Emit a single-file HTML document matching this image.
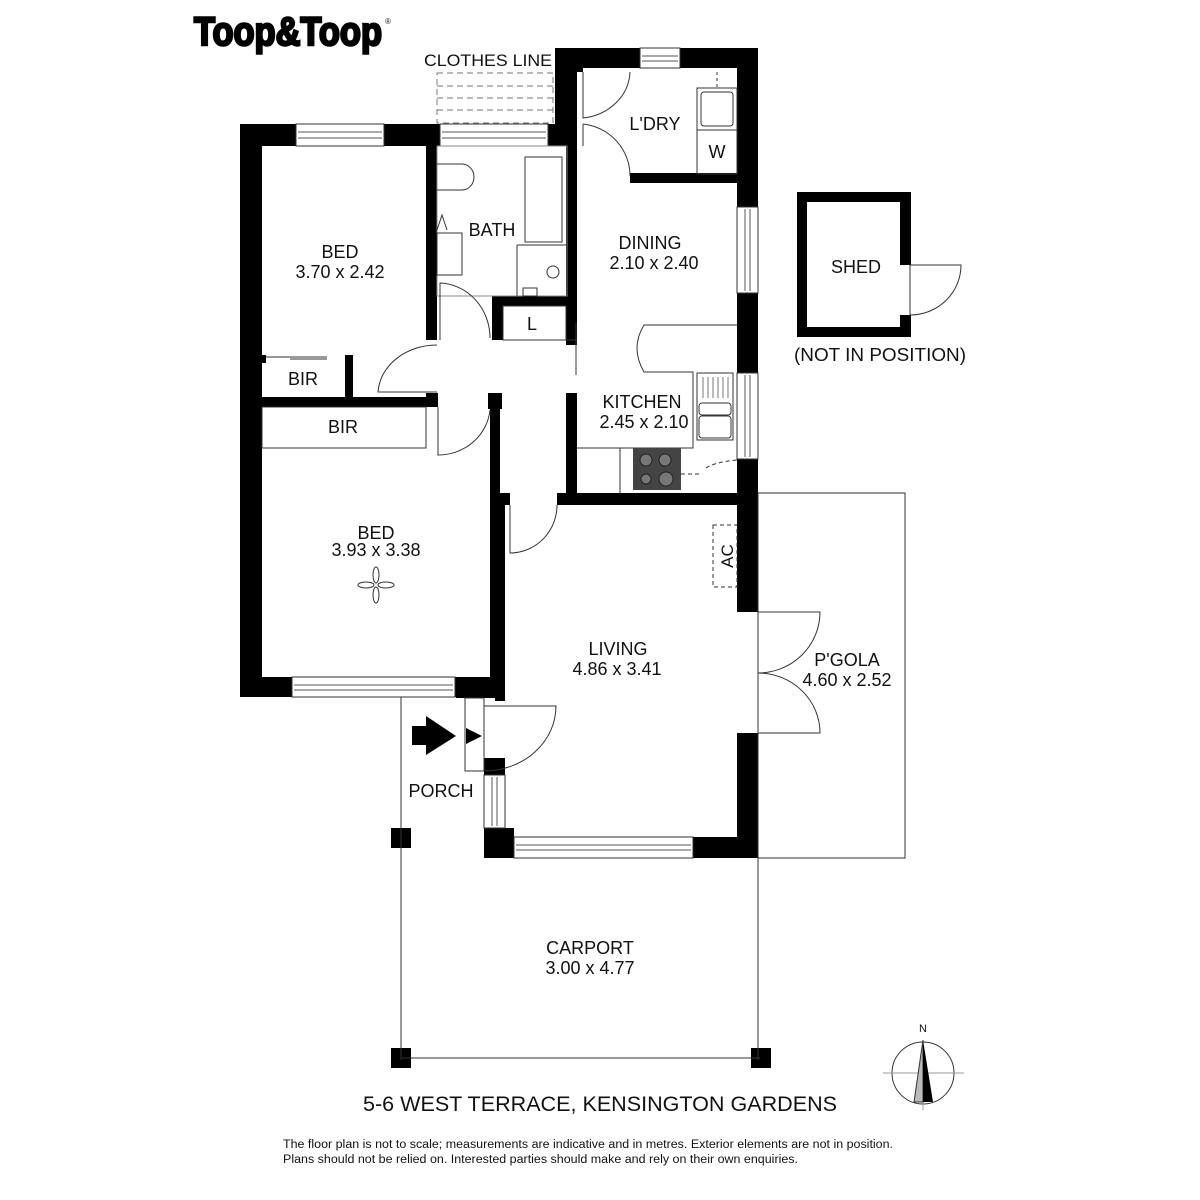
<!DOCTYPE html>
<html><head><meta charset="utf-8"><style>
html,body{margin:0;padding:0;background:#fff;}
svg{display:block;}
text{font-family:"Liberation Sans",sans-serif;fill:#111;}
.lb{font-size:18px;text-anchor:middle;}
</style></head><body>
<svg width="1200" height="1200" viewBox="0 0 1200 1200" xmlns="http://www.w3.org/2000/svg">
<rect width="1200" height="1200" fill="#fff"/>
<!-- logo -->
<text x="194" y="45" font-size="40" font-weight="bold" stroke="#000" stroke-width="2.5" textLength="188" lengthAdjust="spacingAndGlyphs" style="font-family:'Liberation Sans',sans-serif;fill:#000">Toop&amp;Toop</text>
<text x="385" y="24" font-size="8">®</text>

<!-- clothes line -->
<text x="424" y="66" font-size="17" textLength="128" lengthAdjust="spacingAndGlyphs">CLOTHES LINE</text>
<g stroke="#777" stroke-width="1" stroke-dasharray="6,4" fill="none">
<rect x="437" y="73" width="116" height="50"/>
<line x1="437" y1="86" x2="553" y2="86"/><line x1="437" y1="98" x2="553" y2="98"/><line x1="437" y1="110" x2="553" y2="110"/>
</g>

<g fill="#000">
<rect x="240" y="124" width="22" height="573"/>
<rect x="240" y="124" width="196" height="22"/>
<rect x="434" y="124" width="123" height="22"/>
<rect x="555" y="48" width="22" height="98"/>
<rect x="555" y="48" width="202" height="20"/>
<rect x="737" y="48" width="21" height="446"/>
<rect x="630" y="173" width="110" height="10"/>
<rect x="577" y="68" width="6" height="4"/>
<rect x="566" y="146" width="11" height="35"/>
<rect x="566" y="180" width="11" height="165"/>
<rect x="426" y="146" width="11" height="194"/>
<rect x="426" y="393" width="12" height="14"/>
<rect x="492" y="296" width="75" height="10"/>
<rect x="492" y="296" width="11" height="44"/>
<rect x="240" y="397" width="198" height="10"/>
<rect x="345" y="355" width="8" height="45"/>
<rect x="262" y="355" width="4" height="8"/>
<rect x="490" y="407" width="10" height="290"/>
<rect x="488" y="393" width="14" height="16"/>
<rect x="240" y="677" width="262" height="20"/>
<rect x="456" y="677" width="49" height="21"/>
<rect x="566" y="393" width="11" height="100"/>
<rect x="557" y="493" width="200" height="12"/>
<rect x="500" y="493" width="10" height="12"/>
<rect x="495" y="493" width="10" height="208"/>
<rect x="484" y="758" width="21" height="17"/>
<rect x="484" y="828" width="30" height="30"/>
<rect x="737" y="493" width="21" height="119"/>
<rect x="737" y="733" width="21" height="125"/>
<rect x="693" y="837" width="65" height="21"/>
<rect x="797" y="192" width="114" height="10"/>
<rect x="797" y="192" width="10" height="145"/>
<rect x="797" y="327" width="114" height="10"/>
<rect x="900" y="192" width="11" height="73"/>
<rect x="900" y="315" width="11" height="22"/>
<rect x="391" y="828" width="20" height="20"/>
<rect x="391" y="1048" width="20" height="20"/>
<rect x="751" y="1048" width="20" height="20"/>
</g>

<g fill="#fff" stroke="#333" stroke-width="1">
<rect x="296" y="124" width="88" height="22"/>
<rect x="440" y="124" width="108" height="22"/>
<rect x="640" y="48" width="40" height="20"/>
<rect x="737" y="207" width="21" height="86"/>
<rect x="737" y="373" width="21" height="86"/>
<rect x="292" y="677" width="163" height="20"/>
<rect x="484" y="775" width="21" height="53"/>
<rect x="514" y="837" width="179" height="21"/>
</g>
<g stroke="#555" stroke-width="1" fill="none">
<line x1="298" y1="132" x2="382" y2="132"/><line x1="298" y1="138" x2="382" y2="138"/>
<line x1="442" y1="132" x2="546" y2="132"/><line x1="442" y1="138" x2="546" y2="138"/>
<line x1="642" y1="56" x2="678" y2="56"/><line x1="642" y1="61" x2="678" y2="61"/>
<line x1="745" y1="209" x2="745" y2="291"/><line x1="750" y1="209" x2="750" y2="291"/>
<line x1="745" y1="375" x2="745" y2="457"/><line x1="750" y1="375" x2="750" y2="457"/>
<line x1="294" y1="685" x2="453" y2="685"/><line x1="294" y1="690" x2="453" y2="690"/>
<line x1="492" y1="777" x2="492" y2="826"/><line x1="497" y1="777" x2="497" y2="826"/>
<line x1="516" y1="845" x2="691" y2="845"/><line x1="516" y1="850" x2="691" y2="850"/>
</g>

<g stroke="#333" stroke-width="1" fill="none">
<path d="M583,72 L583,118 A53,48 0 0 0 630,72"/>
<path d="M583,124 A53,52 0 0 1 630,176"/>
<line x1="583" y1="124" x2="583" y2="146"/>
<rect x="697" y="88" width="40" height="42"/>
<rect x="701" y="92" width="32" height="34" rx="3"/>
<rect x="697" y="130" width="40" height="44"/>
<line x1="717" y1="72" x2="717" y2="88" stroke-dasharray="3,3"/>
<rect x="437" y="146" width="130" height="150" stroke="#888"/>
<path d="M437,164 L462,164 A12,13 0 0 1 462,190 L437,190"/>
<rect x="525" y="157" width="37" height="85"/>
<rect x="437" y="233" width="25" height="42"/>
<path d="M437,230 L442,215 L447,230"/>
<line x1="517" y1="245" x2="517" y2="296"/><line x1="517" y1="245" x2="566" y2="245"/>
<circle cx="553" cy="272" r="6"/>
<rect x="523" y="288" width="14" height="8"/>
<path d="M440,340 L440,283 A52,55 0 0 1 490,338"/>
<path d="M437,392 L378,392 A59,50 0 0 1 437,345"/>
<path d="M438,407 L438,455 A52,50 0 0 0 490,410"/>
<line x1="266" y1="357" x2="327" y2="357"/><line x1="290" y1="359" x2="327" y2="359"/>
<rect x="262" y="407" width="164" height="41"/>
<rect x="503" y="306" width="63" height="34"/>
<line x1="503" y1="340" x2="577" y2="340"/>
<line x1="576" y1="323" x2="576" y2="375"/>
<path d="M737,325 L644,325 Q630,348 644,372 L693,372 L693,448 L577,448"/>
<line x1="620" y1="448" x2="620" y2="493"/>
<rect x="697" y="373" width="36" height="67"/>
<rect x="699" y="403" width="32" height="12" rx="3"/>
<rect x="699" y="416" width="32" height="22" rx="3"/>
<g stroke="#777"><line x1="703" y1="377" x2="703" y2="398"/><line x1="708" y1="377" x2="708" y2="398"/><line x1="713" y1="377" x2="713" y2="398"/><line x1="718" y1="377" x2="718" y2="398"/><line x1="723" y1="377" x2="723" y2="398"/><line x1="728" y1="377" x2="728" y2="398"/></g>
<path d="M681,474 L700,474 M706,468 Q715,462 737,460" stroke-dasharray="4,3"/>
<path d="M510,505 L510,553 A47,48 0 0 0 557,505"/>
<path d="M484,706 L556,706 A72,65 0 0 1 484,771"/>
<rect x="465" y="698" width="19" height="73"/>
<rect x="713" y="525" width="24" height="62" stroke-dasharray="4,3"/>
<rect x="758" y="493" width="147" height="365"/>
<path d="M758,612 L820,612 A62,61 0 0 1 758,673 A62,60 0 0 1 820,733 L758,733"/>
<line x1="401" y1="697" x2="401" y2="1060"/>
<line x1="758" y1="858" x2="758" y2="1060"/>
<line x1="401" y1="1058" x2="760" y2="1058"/>
<path d="M910,265 L961,265 A51,50 0 0 1 910,315 Z"/>
<circle cx="923" cy="1073" r="31"/>
<line x1="883" y1="1073" x2="964" y2="1073" stroke="#999"/>
<line x1="923" y1="1102" x2="923" y2="1110" stroke="#999"/>
<ellipse cx="376" cy="575" rx="3" ry="8"/><ellipse cx="376" cy="595" rx="3" ry="8"/>
<ellipse cx="366" cy="585" rx="8" ry="3"/><ellipse cx="386" cy="585" rx="8" ry="3"/>
</g>
<rect x="633" y="448" width="48" height="42" fill="#444"/>
<g fill="#777" stroke="#222"><circle cx="646" cy="460" r="6"/><circle cx="665" cy="460" r="6"/><circle cx="646" cy="479" r="5"/><circle cx="666" cy="479" r="7"/></g>
<polygon points="923,1040 914,1102 923,1102" fill="#bbb" stroke="#333" stroke-width="1"/>
<polygon points="923,1040 933,1102 923,1102" fill="#000"/>
<text x="923" y="1032" font-size="11" text-anchor="middle">N</text>
<polygon points="412,726 426,726 426,716 456,736 426,755 426,745 412,745" fill="#000"/>
<polygon points="466,728 482,736 466,744" fill="#000"/>

<text class="lb" x="655" y="130">L'DRY</text>
<text class="lb" x="717" y="158">W</text>
<text class="lb" x="492" y="236">BATH</text>
<text class="lb" x="532" y="330">L</text>
<text class="lb" x="340" y="258">BED</text>
<text class="lb" x="340" y="278">3.70 x 2.42</text>
<text class="lb" x="303" y="385">BIR</text>
<text class="lb" x="343" y="433">BIR</text>
<text class="lb" x="650" y="249">DINING</text>
<text class="lb" x="654" y="269">2.10 x 2.40</text>
<text class="lb" x="642" y="408">KITCHEN</text>
<text class="lb" x="644" y="428">2.45 x 2.10</text>
<text class="lb" x="376" y="539">BED</text>
<text class="lb" x="376" y="556">3.93 x 3.38</text>
<text class="lb" x="618" y="655">LIVING</text>
<text class="lb" x="617" y="675">4.86 x 3.41</text>
<text class="lb" x="847" y="666">P'GOLA</text>
<text class="lb" x="847" y="686">4.60 x 2.52</text>
<text class="lb" x="441" y="797">PORCH</text>
<text class="lb" x="590" y="954">CARPORT</text>
<text class="lb" x="590" y="974">3.00 x 4.77</text>
<text class="lb" x="856" y="273">SHED</text>
<text class="lb" x="880" y="361" textLength="172" lengthAdjust="spacingAndGlyphs">(NOT IN POSITION)</text>
<text x="733" y="556" font-size="17" text-anchor="middle" transform="rotate(-90 733 556)">AC</text>

<text x="600" y="1111" font-size="21" text-anchor="middle" textLength="474" lengthAdjust="spacingAndGlyphs">5-6 WEST TERRACE, KENSINGTON GARDENS</text>
<text x="283" y="1148" font-size="11.5" textLength="610" lengthAdjust="spacingAndGlyphs">The floor plan is not to scale; measurements are indicative and in metres. Exterior elements are not in position.</text>
<text x="283" y="1163" font-size="11.5" textLength="515" lengthAdjust="spacingAndGlyphs">Plans should not be relied on. Interested parties should make and rely on their own enquiries.</text>
</svg>
</body></html>
